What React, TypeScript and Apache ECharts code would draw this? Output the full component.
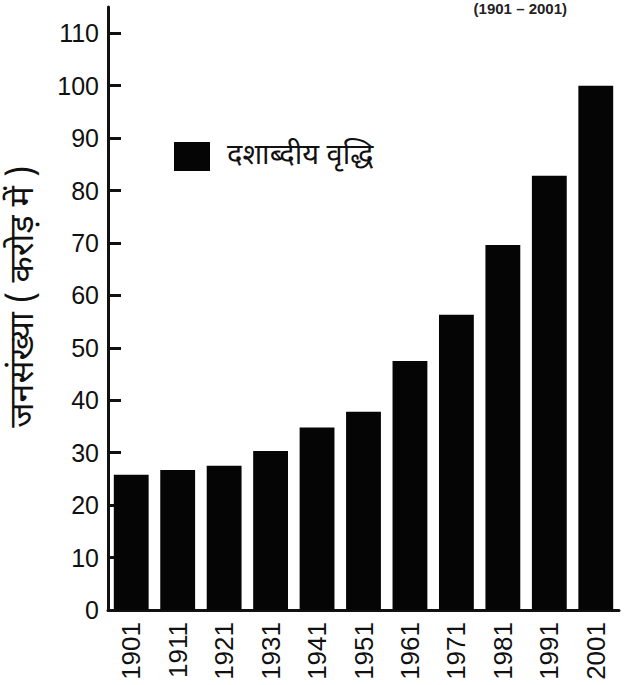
import React, { useEffect, useRef } from "react";
import * as echarts from "echarts";

const years = ["1901", "1911", "1921", "1931", "1941", "1951", "1961", "1971", "1981", "1991", "2001"];
const population = [25.8, 26.7, 27.5, 30.3, 34.8, 37.8, 47.5, 56.3, 69.6, 82.8, 100];
const yTicks = [0, 10, 20, 30, 40, 50, 60, 70, 80, 90, 100, 110];
const seriesName = "दशाब्दीय वृद्धि";
const yAxisTitle = "जनसंख्या ( करोड़ में )";
const captionText = "(1901 – 2001)";

const DEV_FONT = "'Noto Sans Devanagari', 'Noto Sans', 'Lohit Devanagari', 'FreeSans', sans-serif";
const NUM_FONT = "'Liberation Sans', Arial, sans-serif";

export default function App() {
  const ref = useRef<HTMLDivElement>(null);
  useEffect(() => {
    if (!ref.current) return;
    const chart = echarts.init(ref.current, null, { renderer: "svg" });
    chart.setOption({
      animation: false,
      backgroundColor: "#ffffff",
      title: {
        text: captionText,
        right: 58,
        top: 1,
        padding: 0,
        textStyle: { fontFamily: NUM_FONT, fontSize: 15, fontWeight: "bold", color: "#222" },
      },
      legend: {
        show: true,
        left: 169,
        top: 137,
        padding: 5,
        itemWidth: 36,
        itemHeight: 29,
        itemGap: 10,
        icon: "rect",
        textStyle: { fontFamily: DEV_FONT, fontSize: 29, color: "#111", padding: [0, 0, 0, 12] },
        data: [seriesName],
      },
      grid: { left: 94, right: 6, top: 7, bottom: 75, containLabel: false },
      xAxis: {
        type: "category",
        data: years,
        boundaryGap: true,
        axisLine: { show: true, lineStyle: { color: "#111", width: 3 } },
        axisTick: { show: false },
        axisLabel: {
          rotate: 90,
          margin: 12,
          fontFamily: NUM_FONT,
          fontSize: 26,
          color: "#111",
        },
      },
      yAxis: {
        type: "value",
        min: 0,
        max: 115,
        interval: 10,
        name: yAxisTitle,
        nameLocation: "middle",
        nameGap: 66,
        nameRotate: 90,
        nameTextStyle: { fontFamily: DEV_FONT, fontSize: 34, color: "#111", padding: [0, 0, 0, 24] },
        splitLine: { show: false },
        axisLine: { show: true, lineStyle: { color: "#111", width: 3 } },
        axisTick: {
          show: true,
          inside: true,
          length: 13,
          lineStyle: { color: "#111", width: 3 },
          customValues: yTicks,
        },
        axisLabel: {
          fontFamily: NUM_FONT,
          fontSize: 25,
          color: "#111",
          margin: 9,
          customValues: yTicks,
        },
      },
      series: [
        {
          name: seriesName,
          type: "bar",
          data: population,
          barCategoryGap: "25%",
          itemStyle: { color: "#050505" },
        },
      ],
    });
    return () => chart.dispose();
  }, []);
  return <div ref={ref} style={{ width: 625, height: 685, position: "absolute", left: 0, top: 0 }} />;
}
